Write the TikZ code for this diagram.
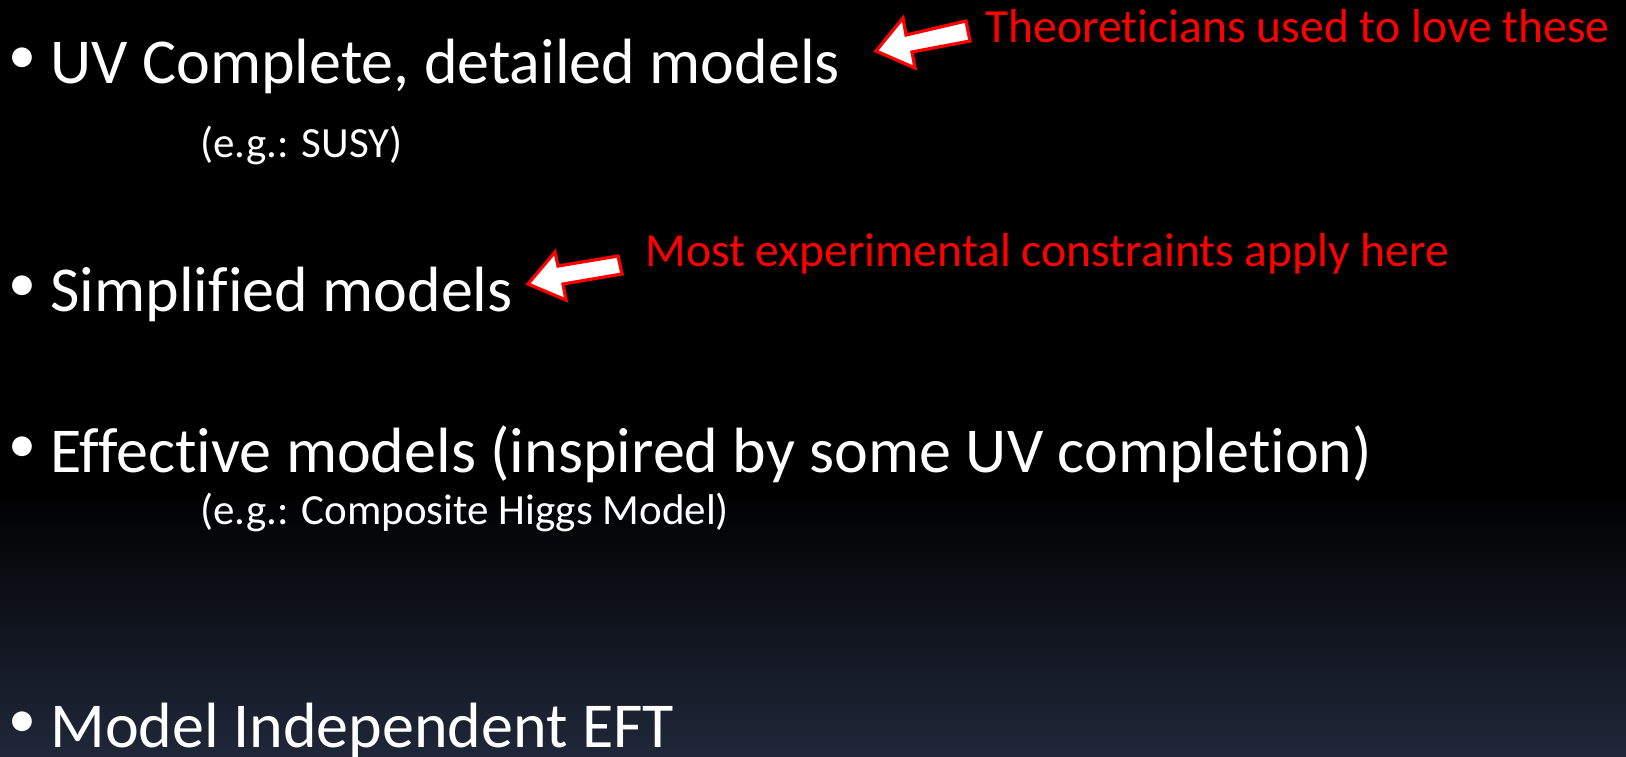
\documentclass[tikz,border=0pt]{standalone}
\usepackage{fontspec}
\setmainfont[Ligatures=NoCommon]{Carlito}
\definecolor{bgbot}{RGB}{31,39,57}
\definecolor{redtxt}{RGB}{255,0,0}
\pgfdeclareverticalshading{slidebg}{100bp}{color(0bp)=(bgbot); color(25bp)=(bgbot); color(42.8bp)=(black); color(100bp)=(black)}
\tikzset{
  big/.style={text=white, font=\fontsize{32}{38}\selectfont, inner sep=0pt, anchor=base west},
  dot/.style={text=white, font=\fontsize{28}{33}\selectfont, inner sep=0pt, anchor=center},
  small/.style={text=white, font=\fontsize{21.5}{26}\selectfont, inner sep=0pt, anchor=base west},
  note/.style={text=redtxt, font=\fontsize{23.8}{28}\selectfont, inner sep=0pt, anchor=base west},
  blockarrow/.style={fill=white, draw=redtxt, line width=1.6pt, line join=miter}
}
\begin{document}
\begin{tikzpicture}[x=0.5pt, y=-0.5pt]
\useasboundingbox (0,0) rectangle (1626,756);
\shade[shading=slidebg] (0,0) rectangle (1626,756);
% bullets and items
\node[dot] (b1) at (22,61) {•};
\node[big] (t1) at (50,83) {UV Complete, detailed models};
\node[small] (s1) at (200,157) {(e.g.: SUSY)};
\node[dot] (b2) at (22,289) {•};
\node[big] (t2) at (50,311) {Simplified models};
\node[dot] (b3) at (22,450) {•};
\node[big] (t3) at (50,472) {Effective models (inspired by some UV completion)};
\node[small] (s3) at (200,524) {(e.g.: Composite Higgs Model)};
\node[dot] (b4) at (22,725) {•};
\node[big] (t4) at (50,747) {Model Independent EFT};
% red notes
\node[note] (n1) at (985,42) {Theoreticians used to love these};
\node[note] (n2) at (645,266) {Most experimental constraints apply here};
% block arrows
\draw[blockarrow] (876,51) -- (903,18) -- (906,35) -- (966,21) -- (970,41) -- (912,52) -- (915,68) -- cycle;
\draw[blockarrow] (528,284) -- (555,252) -- (558,266) -- (618,256) -- (622,274) -- (563,284) -- (566,300) -- cycle;
\end{tikzpicture}
\end{document}
